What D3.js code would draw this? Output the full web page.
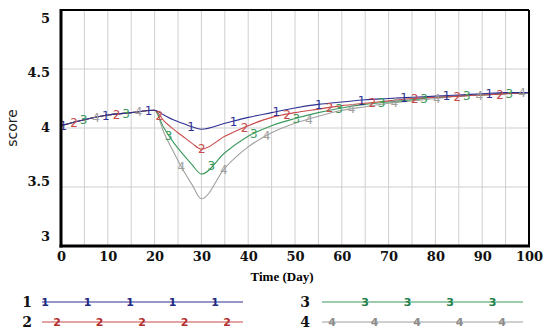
<!DOCTYPE html>
<html><head><meta charset="utf-8">
<script src="https://cdn.jsdelivr.net/npm/d3@7"></script>
<style>body{margin:0;background:#fff}svg{display:block}</style>
</head><body>
<svg id="c" width="550" height="332"></svg>
<script>
const days = [0,5,10,15,20,22,24,26,28,30,35,40,45,50,55,60,65,70,75,80,85,90,95,100];
const s1 = [4.02,4.07,4.11,4.13,4.15,4.11,4.07,4.04,4.01,3.99,4.04,4.09,4.13,4.17,4.20,4.22,4.24,4.25,4.26,4.27,4.28,4.29,4.30,4.30];
const s2 = [4.02,4.07,4.11,4.13,4.15,4.06,3.99,3.93,3.87,3.82,3.93,4.02,4.09,4.13,4.16,4.19,4.21,4.23,4.25,4.26,4.27,4.28,4.29,4.30];
const s3 = [4.02,4.07,4.11,4.13,4.15,4.00,3.88,3.78,3.69,3.61,3.79,3.93,4.02,4.08,4.13,4.17,4.20,4.22,4.24,4.26,4.27,4.28,4.29,4.30];
const s4 = [4.02,4.07,4.11,4.13,4.15,3.96,3.80,3.65,3.52,3.40,3.66,3.84,3.96,4.04,4.10,4.15,4.18,4.21,4.23,4.25,4.27,4.28,4.29,4.30];
const seriesNames = ["1","2","3","4"];
const seriesValues = [s1,s2,s3,s4];
const colors = ["#2e3192","#c94a4a","#3a9a5c","#a0a0a0"];
const markColors = ["#1f2a80","#b32d2d","#23804a","#8c8c8c"];
const markerStart = [0.5,2.8,4.8,7.5];
const markerStep = 9.1;
const xTicks = [0,10,20,30,40,50,60,70,80,90,100];
const yTicks = [3,3.5,4,4.5,5];
const yGrid = [3.5,4,4.5];
const xGrid = d3.range(5,100,5);

const svg = d3.select("#c");
const L=61,R=529,T=10,B=246;
const x = d3.scaleLinear().domain([0,100]).range([L,R]);
const y = d3.scaleLinear().domain([3,5]).range([B,T]);
const yLab = d3.scaleLinear().domain([3,5]).range([236,18]);

// grid
svg.append("g").selectAll("line").data(xGrid).join("line")
  .attr("x1",d=>x(d)).attr("x2",d=>x(d)).attr("y1",T).attr("y2",B)
  .attr("stroke","#cfcfcf").attr("stroke-width",1);
svg.append("g").selectAll("line").data(yGrid).join("line")
  .attr("x1",L).attr("x2",R).attr("y1",d=>y(d)).attr("y2",d=>y(d))
  .attr("stroke","#cfcfcf").attr("stroke-width",1);

// axes labels
const xa = svg.append("g").attr("transform",`translate(0,${B})`)
  .call(d3.axisBottom(x).tickValues(xTicks).tickSize(0).tickPadding(6).tickFormat(d3.format("d")));
xa.select(".domain").remove();
xa.selectAll("text").attr("font-family","'DejaVu Serif',serif").attr("font-weight","bold").attr("font-size","13px").attr("fill","#111");
const ya = svg.append("g").attr("transform",`translate(50,0)`)
  .call(d3.axisLeft(yLab).tickValues(yTicks).tickSize(0).tickPadding(0).tickFormat(d=>String(d)));
ya.select(".domain").remove();
ya.selectAll("text").attr("font-family","'DejaVu Serif',serif").attr("font-weight","bold").attr("font-size","13px").attr("fill","#111");

svg.append("text").attr("x",282).attr("y",281).attr("text-anchor","middle")
  .attr("font-family","'Liberation Serif',serif").attr("font-weight","bold").attr("font-size","13px").text("Time (Day)");
svg.append("text").attr("transform","translate(17,128) rotate(-90)").attr("text-anchor","middle")
  .attr("font-family","'DejaVu Sans',sans-serif").attr("font-size","14px").attr("fill","#222").text("score");

// lines
const line = d3.line().x((d,i)=>x(days[i])).y(d=>y(d)).curve(d3.curveMonotoneX);
const interp = (vals,t)=>{ for(let i=0;i<days.length-1;i++){ if(t>=days[i]&&t<=days[i+1]){ const f=(t-days[i])/(days[i+1]-days[i]); return vals[i]+(vals[i+1]-vals[i])*f; } } return vals[vals.length-1]; };
for(let k=3;k>=0;k--){
  svg.append("path").datum(seriesValues[k]).attr("d",line).attr("fill","none")
    .attr("stroke",colors[k]).attr("stroke-width",1.1);
}
for(let k=3;k>=0;k--){
  const ms = d3.range(markerStart[k],100.01,markerStep);
  svg.append("g").selectAll("text").data(ms).join("text")
    .attr("x",d=>x(d)).attr("y",d=>y(interp(seriesValues[k],d))+4.5)
    .attr("text-anchor","middle").attr("font-family","'DejaVu Sans',sans-serif").attr("font-size","12px")
    .attr("fill",colors[k]).text(seriesNames[k]);
}

// frame
svg.append("line").attr("x1",L).attr("x2",R).attr("y1",T).attr("y2",T).attr("stroke","#000").attr("stroke-width",2);
svg.append("line").attr("x1",R).attr("x2",R).attr("y1",T).attr("y2",B).attr("stroke","#000").attr("stroke-width",2);
svg.append("line").attr("x1",L).attr("x2",L).attr("y1",T-1).attr("y2",B+1.5).attr("stroke","#000").attr("stroke-width",3);
svg.append("line").attr("x1",L-1.5).attr("x2",R+1).attr("y1",B).attr("y2",B).attr("stroke","#000").attr("stroke-width",3);

// legend
const legX = [[27,42,243],[27,42,243],[305,322,523],[305,322,523]];
const legY = [302,322,302,322];
const legFirst = [3,15,43,10];
const legCount = [5,5,4,5];
const legGap = 42.5;
for(let k=0;k<4;k++){
  const g = svg.append("g");
  g.append("text").attr("x",legX[k][0]).attr("y",legY[k]+5).attr("text-anchor","middle")
    .attr("font-family","'DejaVu Serif',serif").attr("font-weight","bold").attr("font-size","14px").attr("fill","#111").text(seriesNames[k]);
  g.append("line").attr("x1",legX[k][1]).attr("x2",legX[k][2]).attr("y1",legY[k]).attr("y2",legY[k])
    .attr("stroke",colors[k]).attr("stroke-width",1.1);
  g.selectAll("text.m").data(d3.range(legCount[k])).join("text").attr("class","m")
    .attr("x",i=>legX[k][1]+legFirst[k]+i*legGap).attr("y",legY[k]+4)
    .attr("text-anchor","middle").attr("font-family","'DejaVu Sans',sans-serif").attr("font-weight","bold").attr("font-size","11px")
    .attr("fill",markColors[k]).text(seriesNames[k]);
}
</script>
</body></html>
